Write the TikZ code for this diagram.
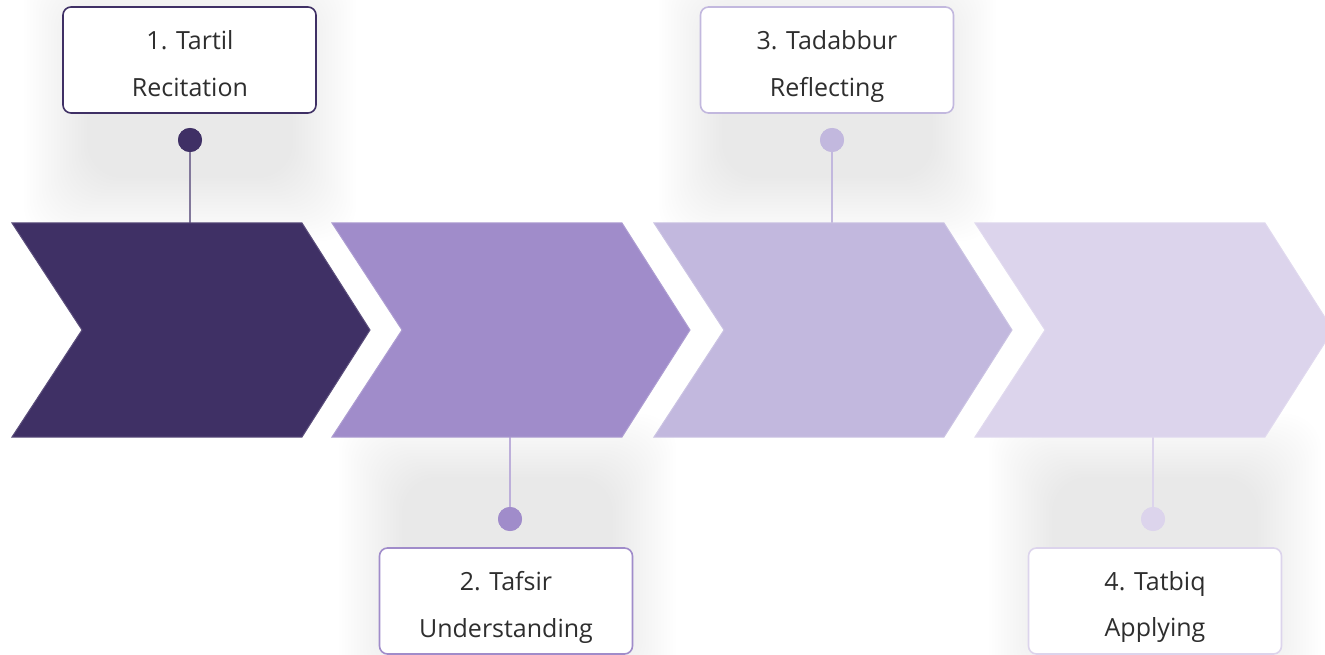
\documentclass[tikz,border=0pt]{standalone}
\usepackage{fontspec}
\setmainfont{Open Sans}
\definecolor{cA}{HTML}{3F3065}
\definecolor{cB}{HTML}{A08CCA}
\definecolor{cC}{HTML}{C2B8DE}
\definecolor{cD}{HTML}{DCD4EC}
\definecolor{txt}{HTML}{2E2E2E}
\tikzset{
  labelbox/.style={draw=#1, fill=white, rounded corners=8pt, line width=1.6pt,
    minimum width=253pt, minimum height=106pt, align=center, text=txt,
    font=\fontsize{25}{47}\selectfont, inner sep=0pt},
  dotmark/.style={circle, fill=#1, minimum size=24pt, inner sep=0pt},
  stem/.style={draw=#1, line width=1.6pt},
  chev/.style={fill=#1, draw=#1!85!white, line width=1pt}
}
\newcommand{\softshadow}[4]{%
  \foreach \k in {1,...,22}{
    \fill[black, opacity=0.0025, rounded corners=35pt]
      ({#1-3*\k},{#2-3*\k}) rectangle ({#3+3*\k},{#4+3*\k});
  }}
\newcommand{\chevronpath}[2]{%
  \fill[chev=#2] (#1,223) -- ({#1+290},223) -- ({#1+358},330) -- ({#1+290},437)
    -- (#1,437) -- ({#1+70},330) -- cycle;}
\begin{document}
\begin{tikzpicture}[x=1pt,y=-1pt]
\useasboundingbox (0,0) rectangle (1325,655);
\clip (0,0) rectangle (1325,655);
% soft shadows
\softshadow{90}{30}{290}{175}
\softshadow{405}{480}{610}{640}
\softshadow{725}{30}{930}{175}
\softshadow{1055}{480}{1255}{640}
% stems
\coordinate (t1) at (190,330);
\coordinate (t2) at (510,330);
\coordinate (t3) at (832,330);
\coordinate (t4) at (1153,330);
\node[dotmark=cA] (d1) at (190,140) {};
\node[dotmark=cB] (d2) at (510,519) {};
\node[dotmark=cC] (d3) at (832,140) {};
\node[dotmark=cD] (d4) at (1153,519) {};
\draw[stem=cA!65!white] (d1) -- (t1);
\draw[stem=cB!70!white] (d2) -- (t2);
\draw[stem=cC] (d3) -- (t3);
\draw[stem=cD] (d4) -- (t4);
% chevrons
\chevronpath{12}{cA}
\chevronpath{332}{cB}
\chevronpath{654}{cC}
\chevronpath{975}{cD}
% dots on top
\node[dotmark=cA] at (d1) {};
\node[dotmark=cB] at (d2) {};
\node[dotmark=cC] at (d3) {};
\node[dotmark=cD] at (d4) {};
% boxes
\node[labelbox=cA] (b1) at (189.5,60) {};
\node[labelbox=cB] (b2) at (506,601) {};
\node[labelbox=cC] (b3) at (827,60) {};
\node[labelbox=cD] (b4) at (1155,601) {};
\node[labelbox=cA, draw=none, fill=none] at (190,64) {1. Tartil\\Recitation};
\node[labelbox=cB, draw=none, fill=none] at (506,607) {2. Tafsir\\Understanding};
\node[labelbox=cC, draw=none, fill=none] at (827,67) {3. Tadabbur\\Reflecting};
\node[labelbox=cD, draw=none, fill=none] at (1155,607) {4. Tatbiq\\Applying};
\end{tikzpicture}
\end{document}
